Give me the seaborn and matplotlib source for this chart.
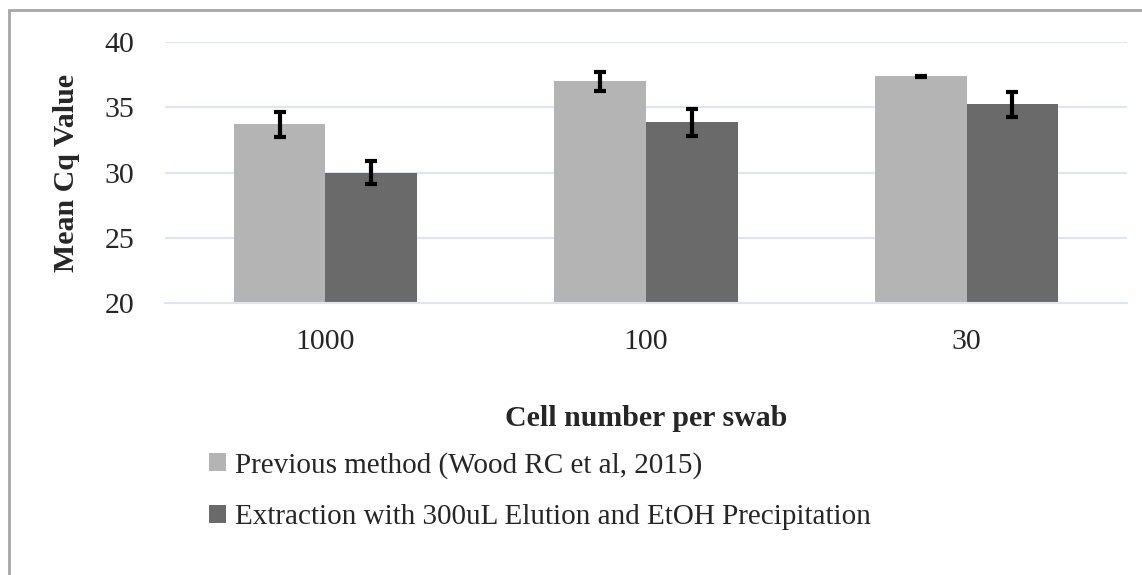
import matplotlib
matplotlib.use("Agg")
import matplotlib.pyplot as plt
import seaborn as sns
import pandas as pd
import numpy as np
from matplotlib.patches import Rectangle, Patch

categories = ["1000", "100", "30"]
series = ["Previous method (Wood RC et al, 2015)",
          "Extraction with 300uL Elution and EtOH Precipitation"]
previous_vals = [33.7, 37.0, 37.4]
previous_err = [0.95, 0.7, 0.05]
extraction_vals = [30.0, 33.85, 35.25]
extraction_err = [0.9, 1.05, 0.95]
colors = ["#b4b4b4", "#6a6a6a"]

df = pd.DataFrame({
    "cat": categories * 2,
    "series": [series[0]] * 3 + [series[1]] * 3,
    "val": previous_vals + extraction_vals,
})
errs = previous_err + extraction_err

sns.set_theme(style="white")
plt.rcParams["font.family"] = ["Liberation Serif", "DejaVu Serif"]

fig = plt.figure(figsize=(11.42, 5.75), dpi=100)
ax = fig.add_axes([165/1142, 1 - 303/575, (1127 - 165)/1142, (303 - 42.3)/575])

sns.barplot(data=df, x="cat", y="val", hue="series", palette=colors,
            width=0.571, gap=0, ax=ax, legend=False, saturation=1, errorbar=None,
            linewidth=0, edgecolor="none")

# error bars at bar centers (order: hue series 0 bars, then series 1)
bars = [p for p in ax.patches if isinstance(p, Rectangle)][:6]
for p, e in zip(bars, errs):
    xc = p.get_x() + p.get_width() / 2
    ax.errorbar(xc, p.get_height(), yerr=e, color="black", elinewidth=3,
                capsize=4.5, capthick=3, zorder=5)

ax.set_ylim(20, 40)
ax.set_yticks([20, 25, 30, 35, 40])
ax.set_xlim(-0.5, 2.5)
ax.yaxis.grid(True, color="#dce6f2", lw=1.5)
ax.set_axisbelow(True)
for s in ["top", "right", "left"]:
    ax.spines[s].set_visible(False)
ax.spines["bottom"].set_color("#dce6f2")
ax.spines["bottom"].set_linewidth(1.5)
ax.tick_params(axis="y", length=0, labelsize=21.5, pad=22)
ax.tick_params(axis="x", length=0, labelsize=21.5, pad=19)
# category boundary ticks
ax.set_xticks([-0.5, 0.5, 1.5, 2.5], minor=True)
ax.tick_params(axis="x", which="minor", length=10, width=1.5, color="#dce6f2", direction="out")

ax.set_xlabel("Cell number per swab", fontsize=21.5, fontweight="bold", labelpad=36)
ax.set_ylabel("Mean Cq Value", fontsize=21.5, fontweight="bold", labelpad=18)

handles = [Patch(facecolor=c, edgecolor="none") for c in colors]
fig.legend(handles, series, loc="upper left", bbox_to_anchor=(197/1142, 1 - 440/575),
           frameon=False, fontsize=21, handlelength=0.6, handleheight=0.6,
           handletextpad=0.3, labelspacing=0.88, borderaxespad=0)

fig.patches.append(Rectangle((9/1142, -0.1), 1.1, (575 - 10)/575 + 0.1,
                             transform=fig.transFigure, fill=False,
                             edgecolor="#a6a6a6", lw=2))

fig.savefig("out.png", dpi=100)
